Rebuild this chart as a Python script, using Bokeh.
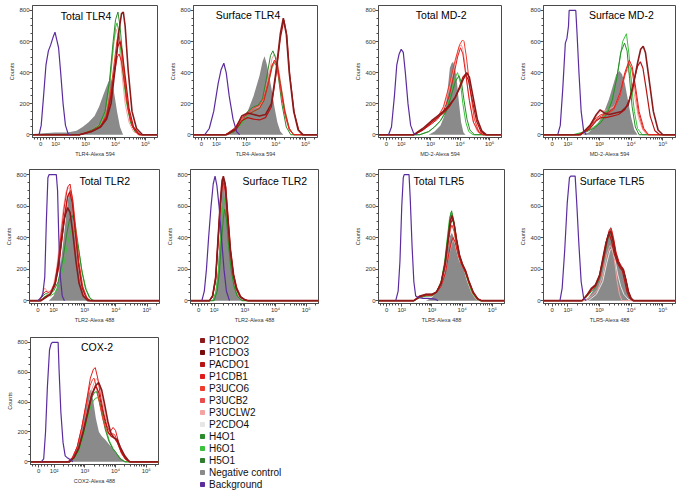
import numpy as np
from bokeh.plotting import figure
from bokeh.layouts import column, row
from bokeh.models import FixedTicker, Label, Legend, LegendItem, Range1d
from bokeh.embed import file_html
from bokeh.resources import INLINE

# ---------------- series / legend ----------------
SERIES = ["P1CDO2", "P1CDO3", "PACDO1", "P1CDB1", "P3UCO6", "P3UCB2", "P3UCLW2",
          "P2CDO4", "H4O1", "H6O1", "H5O1", "Negative control", "Background"]
SERIES_COLORS = ["#8b1a1a", "#760c0c", "#b81414", "#e01b1b", "#f03a2e", "#e84c4c", "#f4a3a3",
                 "#e6e6e6", "#2b8a2b", "#3cc13c", "#2f7d2f", "#8a8a8a", "#5b2c9e"]

# x positions are in display decades (biexponential axis): 0 -> 1.5, 10^2 -> 2, ... 10^5 -> 5
X_TICKS = [1.5, 2, 3, 4, 5]
X_TICK_LABELS = ["0", "10²", "10³", "10⁴", "10⁵"]
Y_TICKS = [0, 200, 400, 600, 800]

# ---------------- data (x = display decade, y = counts) ----------------
total_tlr4 = {
    "Background": ([1.45, 1.52, 1.6, 1.68, 1.76, 1.84, 1.92, 1.98, 2.04, 2.1, 2.17, 2.25, 2.33, 2.42, 2.5],
                   [0, 60, 250, 450, 540, 580, 630, 660, 610, 560, 400, 200, 60, 5, 0]),
    "Negative control": ([1.25, 1.6, 2.0, 2.4, 2.7, 2.9, 3.1, 3.3, 3.45, 3.6, 3.72, 3.83, 3.9, 3.97, 4.05, 4.15, 4.25],
                         [5, 10, 15, 15, 25, 50, 80, 120, 180, 260, 320, 370, 330, 250, 150, 50, 0]),
    "P3UCLW2": ([2.8, 3.2, 3.5, 3.7, 3.85, 3.95, 4.02, 4.1, 4.2, 4.32, 4.45, 4.6, 4.8],
                [0, 30, 70, 170, 400, 600, 680, 620, 420, 200, 80, 20, 0]),
    "H6O1": ([2.8, 3.2, 3.45, 3.65, 3.8, 3.92, 4.0, 4.05, 4.12, 4.22, 4.35, 4.5, 4.65, 4.85],
             [0, 25, 55, 140, 320, 560, 690, 720, 650, 450, 220, 80, 20, 0]),
    "H4O1": ([2.8, 3.2, 3.45, 3.65, 3.8, 3.92, 4.0, 4.08, 4.15, 4.25, 4.38, 4.5, 4.65, 4.85],
             [0, 30, 60, 150, 350, 600, 740, 790, 700, 480, 220, 80, 20, 0]),
    "P3UCO6": ([2.8, 3.2, 3.5, 3.7, 3.85, 3.98, 4.05, 4.1, 4.17, 4.27, 4.4, 4.55, 4.75],
               [0, 20, 55, 130, 300, 500, 610, 640, 590, 420, 190, 60, 0]),
    "P1CDB1": ([2.8, 3.2, 3.5, 3.7, 3.85, 3.98, 4.06, 4.12, 4.2, 4.3, 4.43, 4.58, 4.78],
               [0, 25, 55, 120, 260, 420, 500, 520, 470, 330, 150, 45, 0]),
    "PACDO1": ([2.8, 3.2, 3.5, 3.7, 3.85, 3.98, 4.08, 4.15, 4.22, 4.32, 4.45, 4.6, 4.8],
               [0, 20, 50, 110, 250, 450, 570, 600, 540, 380, 170, 50, 0]),
    "P1CDO2": ([2.8, 3.2, 3.5, 3.7, 3.85, 4.0, 4.1, 4.2, 4.26, 4.32, 4.42, 4.55, 4.7, 4.9],
               [0, 20, 50, 100, 200, 450, 650, 780, 790, 700, 420, 150, 40, 0]),
}

surface_tlr4 = {
    "Background": ([1.61, 1.76, 1.91, 2.06, 2.16, 2.25, 2.33, 2.43, 2.56, 2.68, 2.78],
                   [0, 40, 150, 330, 420, 460, 400, 250, 100, 20, 0]),
    "Negative control": ([2.25, 2.55, 2.85, 3.05, 3.25, 3.45, 3.55, 3.62, 3.7, 3.85, 3.95, 4.05, 4.15, 4.25],
                         [0, 20, 80, 150, 250, 380, 470, 505, 450, 300, 180, 80, 20, 0]),
    "P3UCLW2": ([2.3, 2.6, 2.85, 3.05, 3.25, 3.45, 3.6, 3.75, 3.87, 3.95, 4.05, 4.15, 4.3, 4.45, 4.6],
                [0, 25, 90, 140, 170, 180, 240, 370, 490, 520, 480, 350, 160, 40, 0]),
    "H6O1": ([2.3, 2.6, 2.85, 3.05, 3.25, 3.45, 3.6, 3.75, 3.87, 3.95, 4.05, 4.15, 4.3, 4.45, 4.6],
             [0, 20, 70, 120, 150, 170, 220, 330, 430, 460, 440, 330, 160, 40, 0]),
    "H4O1": ([2.3, 2.6, 2.85, 3.05, 3.25, 3.4, 3.55, 3.7, 3.82, 3.9, 3.98, 4.08, 4.2, 4.35, 4.5],
             [0, 20, 80, 150, 180, 190, 230, 380, 510, 540, 500, 380, 200, 50, 0]),
    "P3UCO6": ([2.3, 2.6, 2.85, 3.05, 3.25, 3.45, 3.6, 3.75, 3.87, 3.95, 4.05, 4.15, 4.3, 4.45, 4.6],
               [0, 30, 100, 140, 170, 190, 240, 350, 450, 470, 430, 300, 130, 30, 0]),
    "P1CDB1": ([2.3, 2.6, 2.85, 3.05, 3.25, 3.45, 3.6, 3.75, 3.87, 3.95, 4.05, 4.15, 4.3, 4.45, 4.6],
               [0, 40, 110, 130, 150, 170, 220, 330, 440, 480, 450, 330, 150, 40, 0]),
    "PACDO1": ([2.35, 2.65, 2.85, 3.05, 3.25, 3.45, 3.65, 3.85, 4.0, 4.15, 4.27, 4.37, 4.47, 4.62, 4.77, 4.92],
               [0, 30, 90, 110, 100, 95, 110, 180, 380, 620, 740, 640, 380, 140, 30, 0]),
    "P1CDO2": ([2.35, 2.65, 2.85, 3.05, 3.25, 3.45, 3.65, 3.85, 4.0, 4.15, 4.25, 4.35, 4.45, 4.6, 4.75, 4.9],
               [0, 40, 120, 140, 130, 120, 130, 200, 400, 650, 750, 650, 400, 150, 30, 0]),
}

total_md2 = {
    "Background": ([1.57, 1.67, 1.77, 1.85, 1.93, 2.0, 2.07, 2.14, 2.23, 2.32, 2.42, 2.52],
                   [0, 50, 250, 450, 520, 550, 530, 400, 200, 60, 10, 0]),
    "Negative control": ([2.93, 3.13, 3.33, 3.48, 3.58, 3.65, 3.71, 3.76, 3.81, 3.88, 3.95, 4.03, 4.11, 4.18],
                         [0, 20, 60, 130, 300, 430, 460, 470, 440, 360, 220, 80, 15, 0]),
    "P3UCLW2": ([2.43, 2.73, 3.03, 3.23, 3.43, 3.63, 3.83, 3.95, 4.03, 4.08, 4.16, 4.28, 4.43, 4.58, 4.73],
                [0, 30, 70, 100, 170, 300, 460, 560, 580, 560, 460, 260, 90, 20, 0]),
    "H6O1": ([2.63, 2.93, 3.13, 3.33, 3.53, 3.68, 3.81, 3.91, 4.01, 4.09, 4.19, 4.29, 4.43],
             [0, 20, 50, 90, 160, 260, 360, 400, 330, 200, 80, 20, 0]),
    "H4O1": ([2.63, 2.93, 3.13, 3.33, 3.53, 3.68, 3.83, 3.96, 4.05, 4.13, 4.23, 4.33, 4.48],
             [0, 20, 50, 90, 150, 240, 340, 380, 330, 220, 100, 30, 0]),
    "P3UCO6": ([2.43, 2.73, 3.03, 3.23, 3.43, 3.63, 3.83, 3.98, 4.08, 4.13, 4.21, 4.33, 4.48, 4.63, 4.78],
               [0, 30, 80, 110, 180, 320, 480, 580, 610, 600, 500, 300, 100, 20, 0]),
    "P1CDB1": ([2.43, 2.73, 3.03, 3.23, 3.43, 3.63, 3.78, 3.91, 4.01, 4.09, 4.18, 4.31, 4.45, 4.63, 4.78],
               [0, 30, 70, 100, 150, 250, 380, 500, 560, 520, 400, 220, 80, 15, 0]),
    "PACDO1": ([2.43, 2.73, 3.03, 3.23, 3.43, 3.63, 3.83, 3.98, 4.09, 4.18, 4.28, 4.4, 4.55, 4.7, 4.85],
               [0, 30, 80, 110, 140, 180, 240, 310, 370, 390, 350, 230, 90, 20, 0]),
    "P1CDO2": ([2.43, 2.73, 3.03, 3.23, 3.43, 3.63, 3.83, 3.98, 4.11, 4.22, 4.31, 4.43, 4.58, 4.73, 4.88],
               [0, 40, 90, 120, 150, 190, 240, 300, 360, 400, 370, 250, 100, 25, 0]),
}

surface_md2 = {
    "Background": ([1.68, 1.76, 1.84, 1.92, 1.97, 2.02, 2.04, 2.25, 2.29, 2.35, 2.42, 2.5, 2.58],
                   [0, 60, 300, 590, 620, 700, 800, 800, 650, 400, 150, 20, 0]),
    "Negative control": ([2.45, 2.65, 2.85, 3.0, 3.15, 3.3, 3.43, 3.53, 3.63, 3.71, 3.8, 3.9, 4.0, 4.1, 4.2],
                         [0, 15, 50, 90, 150, 230, 320, 390, 410, 390, 330, 220, 110, 30, 0]),
    "P3UCLW2": ([2.35, 2.65, 2.85, 3.05, 3.25, 3.45, 3.65, 3.77, 3.88, 3.98, 4.1, 4.23, 4.37, 4.5],
                [0, 40, 110, 150, 160, 180, 260, 370, 420, 380, 260, 110, 30, 0]),
    "H6O1": ([2.15, 2.45, 2.75, 2.96, 3.15, 3.3, 3.45, 3.6, 3.73, 3.85, 3.93, 4.02, 4.1, 4.2, 4.35],
             [0, 15, 40, 70, 120, 180, 270, 430, 600, 650, 520, 300, 150, 40, 0]),
    "H4O1": ([2.25, 2.55, 2.85, 3.05, 3.25, 3.4, 3.55, 3.67, 3.79, 3.87, 3.95, 4.03, 4.13, 4.25],
             [0, 15, 45, 80, 140, 220, 370, 530, 590, 540, 360, 180, 50, 0]),
    "P3UCO6": ([2.35, 2.65, 2.85, 3.05, 3.25, 3.45, 3.65, 3.8, 3.92, 4.01, 4.11, 4.23, 4.38, 4.53],
               [0, 35, 90, 120, 135, 160, 250, 380, 460, 430, 310, 140, 35, 0]),
    "P1CDB1": ([2.35, 2.65, 2.85, 3.05, 3.25, 3.45, 3.65, 3.8, 3.94, 4.03, 4.13, 4.25, 4.4, 4.55],
               [0, 40, 100, 130, 140, 170, 270, 400, 480, 440, 320, 150, 40, 0]),
    "PACDO1": ([2.4, 2.7, 2.9, 3.05, 3.2, 3.4, 3.6, 3.8, 3.95, 4.1, 4.2, 4.29, 4.37, 4.47, 4.6, 4.75, 4.9],
               [0, 40, 90, 110, 110, 120, 130, 160, 230, 360, 440, 470, 430, 300, 120, 25, 0]),
    "P1CDO2": ([2.4, 2.7, 2.9, 3.02, 3.15, 3.3, 3.5, 3.7, 3.9, 4.05, 4.2, 4.3, 4.38, 4.45, 4.55, 4.7, 4.85, 5.0],
               [0, 60, 130, 160, 140, 130, 140, 150, 190, 300, 460, 550, 570, 530, 380, 150, 30, 0]),
}

total_tlr2 = {
    "Background": ([1.5, 1.65, 1.72, 1.77, 1.82, 1.86, 2.09, 2.13, 2.17, 2.22, 2.28, 2.35],
                   [0, 30, 150, 500, 780, 800, 800, 700, 400, 150, 30, 0]),
    "Negative control": ([1.85, 2.0, 2.1, 2.2, 2.3, 2.4, 2.48, 2.55, 2.62, 2.7, 2.8, 2.9, 3.0, 3.1],
                         [0, 30, 80, 180, 350, 530, 660, 690, 600, 420, 220, 90, 25, 0]),
    "P3UCLW2": ([1.55, 1.65, 1.72, 1.8, 1.9, 2.0, 2.1, 2.2, 2.3, 2.4, 2.5, 2.58, 2.68, 2.78, 2.9, 3.0, 3.1],
                [0, 50, 80, 60, 60, 100, 200, 380, 560, 690, 720, 650, 450, 250, 90, 30, 0]),
    "H6O1": ([1.6, 1.7, 1.8, 1.9, 2.05, 2.18, 2.32, 2.45, 2.55, 2.62, 2.7, 2.8, 2.92, 3.05, 3.18, 3.3],
             [0, 25, 35, 30, 50, 100, 220, 360, 440, 460, 430, 330, 180, 70, 15, 0]),
    "H4O1": ([1.55, 1.65, 1.75, 1.85, 2.0, 2.15, 2.3, 2.42, 2.52, 2.6, 2.68, 2.78, 2.9, 3.02, 3.15, 3.25],
             [0, 30, 45, 40, 60, 120, 260, 420, 520, 540, 500, 370, 200, 80, 20, 0]),
    "P3UCO6": ([1.6, 1.75, 1.9, 2.05, 2.15, 2.25, 2.35, 2.45, 2.54, 2.62, 2.72, 2.82, 2.94, 3.07, 3.17],
               [0, 25, 45, 100, 190, 350, 520, 650, 700, 640, 450, 240, 90, 20, 0]),
    "P1CDB1": ([1.55, 1.65, 1.75, 1.85, 1.95, 2.05, 2.15, 2.25, 2.35, 2.45, 2.53, 2.6, 2.7, 2.8, 2.9, 3.0, 3.1, 3.2],
               [0, 40, 60, 50, 70, 120, 250, 430, 600, 720, 740, 660, 450, 250, 110, 40, 10, 0]),
    "PACDO1": ([1.6, 1.75, 1.9, 2.05, 2.15, 2.25, 2.35, 2.45, 2.52, 2.6, 2.7, 2.8, 2.92, 3.05, 3.15],
               [0, 25, 40, 100, 200, 360, 530, 660, 690, 620, 430, 230, 80, 20, 0]),
    "P1CDO2": ([1.6, 1.75, 1.9, 2.05, 2.15, 2.25, 2.35, 2.45, 2.53, 2.62, 2.72, 2.82, 2.95, 3.1],
               [0, 20, 40, 110, 220, 380, 520, 590, 560, 430, 250, 110, 30, 0]),
}

surface_tlr2 = {
    "Background": ([1.6, 1.68, 1.75, 1.82, 1.9, 1.97, 2.03, 2.09, 2.16, 2.24, 2.32, 2.4, 2.5],
                   [0, 60, 200, 400, 600, 740, 790, 730, 600, 400, 200, 60, 0]),
    "Negative control": ([1.95, 2.05, 2.12, 2.18, 2.24, 2.3, 2.35, 2.4, 2.46, 2.54, 2.62, 2.72, 2.82, 2.95, 3.05],
                         [0, 60, 200, 400, 650, 790, 740, 560, 380, 220, 120, 60, 25, 5, 0]),
    "P3UCLW2": ([1.85, 1.95, 2.05, 2.13, 2.2, 2.25, 2.28, 2.34, 2.41, 2.5, 2.6, 2.7, 2.82, 2.98, 3.08],
                [0, 30, 150, 410, 640, 770, 780, 730, 540, 320, 160, 75, 20, 5, 0]),
    "H6O1": ([1.95, 2.05, 2.14, 2.2, 2.26, 2.32, 2.38, 2.45, 2.54, 2.64, 2.75, 2.9],
             [0, 50, 180, 360, 550, 650, 600, 420, 230, 100, 30, 0]),
    "H4O1": ([2.0, 2.1, 2.18, 2.24, 2.3, 2.34, 2.4, 2.47, 2.55, 2.65, 2.75, 2.9],
             [0, 60, 200, 380, 520, 580, 520, 350, 200, 90, 30, 0]),
    "P3UCO6": ([1.85, 1.95, 2.05, 2.13, 2.2, 2.26, 2.31, 2.37, 2.44, 2.53, 2.63, 2.73, 2.86, 3.0, 3.1],
               [0, 25, 130, 380, 600, 740, 770, 720, 540, 320, 160, 75, 22, 5, 0]),
    "P1CDB1": ([1.85, 1.95, 2.05, 2.13, 2.2, 2.26, 2.3, 2.36, 2.43, 2.52, 2.62, 2.72, 2.85, 3.0, 3.1],
               [0, 25, 130, 370, 580, 720, 750, 700, 530, 320, 160, 75, 22, 5, 0]),
    "PACDO1": ([1.85, 1.95, 2.05, 2.13, 2.2, 2.27, 2.32, 2.38, 2.45, 2.54, 2.64, 2.74, 2.87, 3.02, 3.12],
               [0, 30, 140, 390, 610, 750, 770, 720, 540, 320, 165, 80, 25, 5, 0]),
    "P1CDO2": ([1.85, 1.95, 2.05, 2.13, 2.2, 2.26, 2.3, 2.36, 2.43, 2.52, 2.62, 2.72, 2.85, 3.0, 3.1],
               [0, 30, 150, 400, 620, 760, 790, 740, 560, 330, 170, 80, 25, 5, 0]),
}

total_tlr5 = {
    "Background": ([1.8, 1.88, 1.94, 2.0, 2.05, 2.08, 2.24, 2.28, 2.34, 2.4, 2.46, 2.55, 2.7, 2.9, 3.1, 3.2],
                   [0, 60, 250, 600, 780, 800, 800, 650, 350, 120, 30, 20, 15, 15, 10, 0]),
    "Negative control": ([2.8, 3.0, 3.15, 3.3, 3.42, 3.52, 3.6, 3.66, 3.72, 3.8, 3.9, 3.97, 4.05, 4.15, 4.3, 4.45, 4.55],
                         [0, 20, 60, 130, 220, 330, 410, 430, 400, 320, 250, 230, 200, 130, 50, 10, 0]),
    "P3UCLW2": ([2.4, 2.6, 2.8, 3.0, 3.15, 3.3, 3.45, 3.57, 3.66, 3.72, 3.8, 3.88, 3.98, 4.08, 4.18, 4.3, 4.45, 4.6],
                [0, 20, 30, 30, 50, 100, 190, 300, 370, 380, 350, 280, 230, 190, 130, 60, 10, 0]),
    "H6O1": ([2.4, 2.6, 2.8, 3.0, 3.15, 3.3, 3.42, 3.52, 3.58, 3.63, 3.7, 3.78, 3.88, 3.98, 4.08, 4.18, 4.32, 4.48, 4.6],
             [0, 20, 30, 35, 55, 120, 250, 420, 520, 560, 500, 390, 290, 230, 190, 130, 50, 10, 0]),
    "H4O1": ([2.4, 2.6, 2.8, 3.0, 3.15, 3.3, 3.42, 3.52, 3.6, 3.65, 3.72, 3.8, 3.9, 4.0, 4.1, 4.2, 4.35, 4.5, 4.6],
             [0, 20, 30, 30, 50, 110, 230, 400, 530, 570, 510, 400, 290, 230, 190, 130, 50, 10, 0]),
    "P3UCO6": ([2.4, 2.6, 2.8, 3.0, 3.15, 3.3, 3.43, 3.54, 3.61, 3.66, 3.73, 3.81, 3.91, 4.01, 4.11, 4.21, 4.36, 4.51, 4.62],
               [0, 25, 35, 35, 55, 110, 220, 370, 450, 480, 440, 350, 270, 220, 180, 120, 45, 10, 0]),
    "P1CDB1": ([2.4, 2.6, 2.8, 3.0, 3.15, 3.3, 3.45, 3.56, 3.65, 3.7, 3.77, 3.85, 3.95, 4.05, 4.15, 4.25, 4.4, 4.55, 4.65],
               [0, 25, 35, 35, 50, 90, 180, 300, 380, 400, 370, 300, 240, 200, 160, 100, 40, 8, 0]),
    "PACDO1": ([2.4, 2.6, 2.8, 3.0, 3.15, 3.3, 3.43, 3.54, 3.62, 3.68, 3.74, 3.82, 3.92, 4.02, 4.12, 4.22, 4.37, 4.52, 4.63],
               [0, 25, 40, 40, 55, 110, 230, 390, 490, 520, 480, 380, 280, 225, 185, 125, 50, 10, 0]),
    "P1CDO2": ([2.4, 2.6, 2.8, 3.0, 3.15, 3.3, 3.43, 3.54, 3.61, 3.66, 3.73, 3.81, 3.91, 4.01, 4.11, 4.21, 4.36, 4.51, 4.63],
               [0, 30, 40, 40, 55, 110, 230, 400, 510, 540, 490, 390, 290, 230, 190, 130, 55, 12, 0]),
}

surface_tlr5 = {
    "Background": ([1.75, 1.82, 1.9, 1.98, 2.05, 2.09, 2.23, 2.28, 2.35, 2.42, 2.5, 2.58],
                   [0, 80, 320, 620, 780, 790, 790, 620, 350, 120, 15, 0]),
    "Negative control": ([2.5, 2.65, 2.78, 2.9, 3.02, 3.13, 3.24, 3.31, 3.35, 3.41, 3.5, 3.57, 3.64, 3.72, 3.79, 3.86, 3.93, 4.0, 4.06],
                         [0, 20, 60, 110, 180, 270, 380, 450, 470, 420, 300, 250, 220, 190, 150, 100, 50, 15, 0]),
    "P2CDO4": ([2.65, 2.9, 3.1, 3.23, 3.33, 3.4, 3.48, 3.57, 3.67, 3.77, 3.9, 4.0],
               [0, 40, 120, 240, 320, 330, 270, 170, 90, 40, 10, 0]),
    "P3UCLW2": ([2.55, 2.75, 2.95, 3.1, 3.23, 3.33, 3.4, 3.47, 3.55, 3.63, 3.71],
                [0, 30, 70, 160, 290, 350, 330, 260, 130, 40, 0]),
    "H4O1": ([2.45, 2.6, 2.75, 2.87, 3.0, 3.12, 3.23, 3.3, 3.35, 3.42, 3.5, 3.59, 3.67, 3.74, 3.82, 3.9, 3.99, 4.07],
             [0, 25, 60, 85, 140, 250, 360, 420, 430, 380, 300, 240, 215, 200, 140, 60, 15, 0]),
    "P3UCO6": ([2.45, 2.6, 2.75, 2.87, 3.0, 3.12, 3.23, 3.31, 3.37, 3.44, 3.52, 3.61, 3.69, 3.76, 3.83, 3.91, 3.99, 4.07],
               [0, 30, 70, 95, 150, 260, 380, 440, 450, 390, 300, 240, 210, 190, 130, 55, 15, 0]),
    "P1CDB1": ([2.45, 2.6, 2.75, 2.87, 3.0, 3.12, 3.23, 3.31, 3.37, 3.44, 3.52, 3.61, 3.69, 3.76, 3.83, 3.91, 3.99, 4.07],
               [0, 30, 70, 90, 150, 270, 390, 450, 460, 400, 310, 250, 220, 200, 140, 60, 15, 0]),
    "PACDO1": ([2.45, 2.6, 2.75, 2.87, 3.0, 3.1, 3.2, 3.27, 3.31, 3.38, 3.46, 3.56, 3.64, 3.72, 3.79, 3.87, 3.96, 4.04],
               [0, 35, 75, 95, 160, 270, 370, 410, 420, 380, 300, 240, 210, 190, 130, 55, 15, 0]),
    "P1CDO2": ([2.45, 2.6, 2.75, 2.87, 3.0, 3.12, 3.23, 3.3, 3.35, 3.42, 3.5, 3.59, 3.67, 3.75, 3.83, 3.91, 4.0, 4.08],
               [0, 35, 80, 100, 160, 270, 380, 430, 440, 390, 300, 245, 215, 195, 135, 60, 15, 0]),
}

cox2 = {
    "Background": ([1.58, 1.66, 1.72, 1.78, 1.85, 1.9, 1.94, 2.13, 2.16, 2.22, 2.29, 2.36, 2.44, 2.52, 2.61],
                   [0, 20, 200, 500, 750, 790, 800, 800, 620, 330, 130, 40, 25, 15, 0]),
    "Negative control": ([2.45, 2.6, 2.75, 2.88, 3.0, 3.1, 3.18, 3.22, 3.28, 3.36, 3.46, 3.56, 3.66, 3.78, 3.9, 4.05, 4.2, 4.35],
                         [0, 30, 100, 200, 330, 440, 480, 470, 400, 290, 200, 170, 150, 120, 90, 50, 15, 0]),
    "P3UCLW2": ([2.5, 2.65, 2.8, 2.95, 3.1, 3.22, 3.32, 3.4, 3.48, 3.58, 3.68, 3.78, 3.88, 3.97, 4.07, 4.2, 4.35, 4.5],
                [0, 30, 90, 210, 360, 480, 540, 560, 520, 410, 300, 230, 190, 170, 120, 50, 10, 0]),
    "H6O1": ([2.5, 2.65, 2.8, 2.95, 3.1, 3.22, 3.34, 3.42, 3.5, 3.6, 3.7, 3.8, 3.92, 4.04, 4.17, 4.32],
             [0, 20, 70, 170, 300, 390, 425, 430, 390, 300, 210, 140, 90, 55, 20, 0]),
    "H4O1": ([2.5, 2.65, 2.8, 2.95, 3.1, 3.22, 3.32, 3.38, 3.46, 3.56, 3.66, 3.78, 3.9, 4.02, 4.15, 4.3],
             [0, 25, 80, 190, 330, 430, 465, 470, 420, 320, 220, 140, 90, 60, 20, 0]),
    "P3UCO6": ([2.45, 2.6, 2.75, 2.9, 3.05, 3.17, 3.25, 3.3, 3.38, 3.48, 3.58, 3.7, 3.8, 3.9, 3.98, 4.08, 4.2, 4.33, 4.48],
               [0, 30, 100, 230, 390, 510, 550, 560, 500, 390, 290, 210, 180, 190, 180, 120, 55, 15, 0]),
    "P1CDB1": ([2.45, 2.6, 2.75, 2.9, 3.05, 3.18, 3.28, 3.34, 3.42, 3.52, 3.62, 3.72, 3.82, 3.92, 4.0, 4.1, 4.22, 4.35, 4.5],
               [0, 30, 100, 230, 400, 560, 620, 630, 560, 430, 320, 240, 200, 230, 210, 130, 60, 15, 0]),
    "PACDO1": ([2.5, 2.65, 2.8, 2.95, 3.1, 3.22, 3.32, 3.38, 3.46, 3.56, 3.66, 3.76, 3.86, 3.96, 4.06, 4.18, 4.32, 4.47],
               [0, 30, 95, 210, 350, 450, 495, 500, 460, 360, 270, 200, 170, 160, 130, 70, 20, 0]),
    "P1CDO2": ([2.5, 2.65, 2.8, 2.95, 3.1, 3.22, 3.35, 3.45, 3.55, 3.65, 3.75, 3.85, 3.95, 4.05, 4.15, 4.3, 4.45],
               [0, 30, 90, 200, 330, 440, 510, 530, 480, 380, 270, 190, 160, 150, 100, 40, 0]),
}

# ---------------- styling ----------------
X_LO, X_HI = 1.23, 5.4
Y_LO, Y_HI = -18, 832
FONT = "Liberation Sans"
AXIS_COLOR = "#4a4a4a"
COLOR = dict(zip(SERIES, SERIES_COLORS))
DRAW_ORDER = ["P2CDO4", "P3UCLW2", "H6O1", "H4O1", "P3UCO6", "P1CDB1", "PACDO1", "P1CDO2"]
WIDTHS = {"P1CDO2": 1.6, "PACDO1": 1.2}

minor_x = [float(v) for v in np.arange(1.3, 2.0, 0.1) if abs(v - 1.5) > 1e-6]
minor_x += [float(n + np.log10(k)) for n in (2, 3, 4) for k in range(2, 10)]
minor_x += [float(5 + np.log10(k)) for k in (2, 3)]
minor_y = [float(v) for v in np.arange(0, 850, 50) if v % 200 != 0]


def make_panel(title, xlabel, data, fw, fh, left, right, top, bottom, tfx, tdy):
    p = figure(frame_width=fw, frame_height=fh, min_border_left=left, min_border_right=right,
               min_border_top=top, min_border_bottom=bottom,
               x_range=Range1d(X_LO, X_HI), y_range=Range1d(Y_LO, Y_HI),
               output_backend="svg", toolbar_location=None)
    p.grid.visible = False
    p.outline_line_color = AXIS_COLOR
    p.outline_line_width = 1
    p.background_fill_color = "white"
    p.border_fill_color = "white"

    nx, ny = data["Negative control"]
    p.varea(x=nx, y1=0, y2=ny, fill_color=COLOR["Negative control"], fill_alpha=1.0)
    for name in DRAW_ORDER:
        if name in data:
            xs, ys = data[name]
            p.line([X_LO] + list(xs) + [X_HI], [0] + list(ys) + [0],
                   line_color=COLOR[name], line_width=WIDTHS.get(name, 1.0))
    bx, by = data["Background"]
    p.line(bx, by, line_color=COLOR["Background"], line_width=1.2)

    xa = p.xaxis[0]
    xa.ticker = FixedTicker(ticks=X_TICKS, minor_ticks=minor_x)
    xa.major_label_overrides = dict(zip(X_TICKS, X_TICK_LABELS))
    xa.axis_label = xlabel
    ya = p.yaxis[0]
    ya.ticker = FixedTicker(ticks=Y_TICKS, minor_ticks=minor_y)
    ya.axis_label = "Counts"
    for ax in (xa, ya):
        ax.axis_line_color = AXIS_COLOR
        ax.major_tick_line_color = AXIS_COLOR
        ax.minor_tick_line_color = AXIS_COLOR
        ax.major_tick_out = 3
        ax.major_tick_in = 0
        ax.minor_tick_out = 2
        ax.minor_tick_in = 0
        ax.major_label_text_font = FONT
        ax.major_label_text_font_size = "6px"
        ax.major_label_text_color = "#333333"
        ax.major_label_standoff = 0
        ax.axis_label_text_font = FONT
        ax.axis_label_text_font_size = "5.5px"
        ax.axis_label_text_font_style = "normal"
        ax.axis_label_text_color = "#333333"
        ax.axis_label_standoff = 1

    ty = Y_HI - tdy / fh * (Y_HI - Y_LO)
    tx = X_LO + tfx * (X_HI - X_LO)
    p.add_layout(Label(x=tx, y=ty, text=title, text_align="center", text_baseline="middle",
                       text_font=FONT, text_font_size="10.5px", text_color="black"))
    return p


# row 1
p1 = make_panel("Total TLR4", "TLR4-Alexa 594", total_tlr4, 125, 132, 32, 3, 5, 20, 0.43, 10)
p2 = make_panel("Surface TLR4", "TLR4-Alexa 594", surface_tlr4, 124, 132, 33, 28, 5, 20, 0.44, 9)
p3 = make_panel("Total MD-2", "MD-2-Alexa 594", total_md2, 123, 132, 33, 9, 5, 20, 0.51, 9)
p4 = make_panel("Surface MD-2", "MD-2-Alexa 594", surface_md2, 132, 132, 33, 4, 5, 20, 0.59, 9)
# row 2
p5 = make_panel("Total TLR2", "TLR2-Alexa 488", total_tlr2, 130, 134, 29, 1, 10, 28, 0.58, 11)
p6 = make_panel("Surface TLR2", "TLR2-Alexa 488", surface_tlr2, 128, 134, 30, 27, 10, 28, 0.66, 11)
p7 = make_panel("Total TLR5", "TLR5-Alexa 488", total_tlr5, 126, 134, 33, 6, 10, 28, 0.48, 11)
p8 = make_panel("Surface TLR5", "TLR5-Alexa 488", surface_tlr5, 132, 134, 33, 3, 10, 28, 0.52, 11)
# row 3 (legend sits in the right-hand side panel of the COX-2 plot)
p9 = make_panel("COX-2", "COX2-Alexa 488", cox2, 128, 127, 30, 135, 6, 26, 0.52, 9)

items = []
for name, c in zip(SERIES, SERIES_COLORS):
    r = p9.scatter(x=[float("nan")], y=[float("nan")], marker="square", fill_color=c, line_color=c)
    items.append(LegendItem(label=name, renderers=[r]))
legend = Legend(items=items, location=(39, -26), border_line_color=None,
                background_fill_alpha=0, padding=0, margin=0, spacing=0,
                glyph_width=10, glyph_height=12, label_height=12, label_standoff=2,
                label_text_font=FONT, label_text_font_size="10px", label_text_color="#111111")
p9.add_layout(legend, "right")

layout = column(row(p1, p2, p3, p4), row(p5, p6, p7, p8), row(p9))
open("out.html", "w").write(file_html(layout, INLINE))
